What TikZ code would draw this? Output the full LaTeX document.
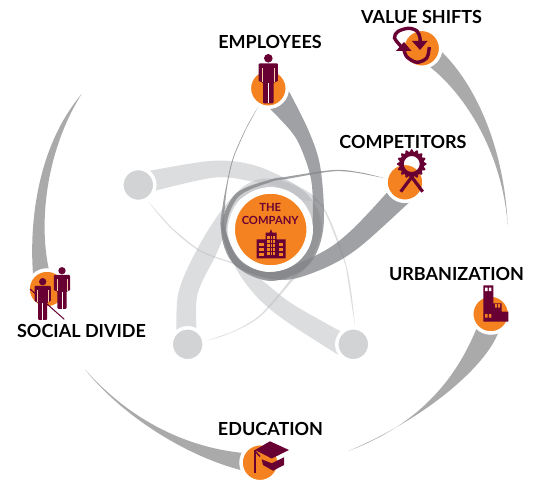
\documentclass[tikz,border=0pt]{standalone}
\usepackage{fontspec}
\setmainfont{Lato}
\definecolor{maroon}{RGB}{104,0,52}
\definecolor{orng}{RGB}{245,130,32}
\definecolor{pale}{RGB}{209,211,212}
\definecolor{swoosh}{RGB}{170,170,170}
\definecolor{bandd}{RGB}{131,133,136}
\definecolor{bandl}{RGB}{185,187,190}
\tikzset{
  hub/.style={circle,fill=orng,draw=white,line width=3.5pt,minimum size=38pt,inner sep=0pt},
  ghost/.style={circle,fill=pale,draw=white,line width=3.5pt,minimum size=33pt,inner sep=0pt},
  core/.style={circle,fill=orng,draw=white,line width=6.5pt,minimum size=78pt,inner sep=0pt},
  lab/.style={font=\fontsize{18}{18}\bfseries\selectfont,text=black,inner sep=0pt},
  corelab/.style={font=\fontsize{11.2}{13}\bfseries\selectfont,text=maroon,inner sep=0pt},
  darkband/.style={fill=bandd,fill opacity=.77},
  lightband/.style={fill=bandl,fill opacity=.5},
  sm/.style={smooth,tension=.55},
}
\newcommand{\personicon}[3]{%
  \begin{scope}[shift={(#1,#2)},scale=#3]
    \fill[maroon] (0,0) circle (4.3);
    \fill[maroon,rounded corners=1pt] (-9.6,23.4) -- (-9.6,5) -- (9.6,5) -- (9.6,23.4) -- (6.6,23.4) -- (6.2,24) -- (5.3,24) -- (5.3,45) -- (-5.3,45) -- (-5.3,24) -- (-6.2,24) -- (-6.6,23.4) -- cycle;
    \draw[white,line width=.7pt] (0,25) -- (0,45);
    \draw[orng!40!white,line width=.5pt] (-6,10) -- (-6,23.5) (6,10) -- (6,23.5);
  \end{scope}}
\begin{document}
\begin{tikzpicture}[x=1pt,y=-1pt]
\useasboundingbox (0,0) rectangle (535,481);
% outer swooshes
\fill[swoosh] (34,285) .. controls (28,231) and (35,149) .. (81.7,94) .. controls (46,150) and (36,228) .. (52,282) -- cycle;
\fill[swoosh] (85,369.3) .. controls (125,415) and (185,452) .. (260,454) -- (260,474) .. controls (200,465) and (125,420) .. (85,369.3) -- cycle;
\fill[swoosh] (482,315) .. controls (470,345) and (445,415) .. (348.3,451) .. controls (445,410) and (504,346) .. (500,320) -- cycle;
\fill[swoosh] (428,40) .. controls (475,75) and (505,150) .. (507.7,226.7) .. controls (503,150) and (460,85) .. (420,60) -- cycle;
% central loops
\begin{scope}[shift={(270.7,229.5)}]
  % top-left ghost
  \fill[lightband] plot[sm] coordinates {(-135,-56)(-60.7,-68.5)(-17.4,-64.5)(22.6,-46.2)(330:51)(0:51)(45:51)(90:51)(135:50)(-71.2,21.6)(-101.1,-2.6)(-122.4,-27.8)} -- plot[sm] coordinates {(-100.7,-3.5)(-70.7,20.5)(-37,33)(90:43)(45:42)(0:42)(330:42)(300:42.5)(5,-43.5)(-17.4,-47.8)(-57.4,-51.8)(-130,-35)} -- cycle;
  % bottom-left ghost
  \fill[lightband] plot[sm] coordinates {(-94,110)(-92.4,63.8)(-74,20.5)(-49,-19.5)(240:51)(270:51)(315:51)(0:51)(45:51)(22.6,50.5)(-10.7,87.2)(-40.7,103.8)(-64,111.2)} -- plot[sm] coordinates {(-40.7,103.2)(-11.5,86.2)(21,48)(45:42)(0:42)(315:42)(270:42.5)(225:43)(200:44)(-44,-2)(-54,23.8)(-73.4,65.5)(-73.4,110)} -- cycle;
  % bottom-right ghost
  \fill[lightband] plot[sm] coordinates {(75,130)(16,92.2)(-14,67.2)(-35.7,37.2)(180:50)(225:50)(270:50)(300:51)(52.6,-22.8)(76,37.2)(84.3,97.2)} -- plot[sm] coordinates {(75.3,37.4)(51.8,-21.5)(315:42.5)(270:42.5)(225:43)(180:43)(135:43.4)(-0.7,57.2)(26,77.2)(85,110)} -- cycle;
  % employees
  \fill[darkband] plot[sm] coordinates {(12,-150)(37.6,-99.5)(50,-60)(0:52.5)(45:52)(90:51.5)(135:50.5)(180:49.5)(-48.5,-20)(-44,-46)(-37.4,-72.8)(-24,-102.8)(-12.4,-122.8)} -- plot[sm] coordinates {(-23.4,-102.8)(-36.6,-72.8)(-43,-46)(-46,-20)(180:45.5)(135:44)(90:42.5)(45:41.5)(0:41)(41,-46)(31,-79.5)(19.3,-99.5)(-10,-130)} -- cycle;
  % competitors
  \fill[darkband] plot[sm] coordinates {(152,-40)(89.3,17.2)(49.3,40.5)(9.3,50.5)(135:50.5)(180:49.5)(225:50)(270:50)(16,-52.8)(62.6,-59.5)(89.3,-57.2)(114.3,-51.2)} -- plot[sm] coordinates {(89.3,-56.2)(62.6,-58.2)(16,-50.5)(270:47.5)(225:46)(180:44.5)(135:43)(90:42.5)(49.3,23.8)(82.6,-1)(128,-50)} -- cycle;
\end{scope}
% hubs
\node[ghost] (g1) at (138.3,185) {};
\node[ghost] (g2) at (187.7,344.3) {};
\node[ghost] (g3) at (353.3,344.3) {};
\node[core] (core) at (270.7,229.5) {};
\node[hub] (emp) at (268.3,88.3) {};
\node[hub] (comp) at (405,182.3) {};
\node[hub] (val) at (421.7,48.3) {};
\node[hub] (urb) at (490.7,314) {};
\node[hub] (edu) at (260,462.7) {};
\node[hub] (soc) at (47,289) {};
% core text and building
\node[corelab] (the) at (270.2,207.7) {THE};
\node[corelab] (company) at (270.2,220.7) {COMPANY};
\fill[maroon] (256.7,258.3) -- (256.7,239.3) -- (265.5,239.3) -- (265.5,232.7) -- (269.5,232.7) -- (271,229.3) -- (272.5,232.7) -- (276.5,232.7) -- (276.5,239.3) -- (285.7,239.3) -- (285.7,258.3) -- cycle;
\foreach \y in {236,240,244,248,252}{\fill[orng] (267.3,\y) rectangle (275,\y+2.6);}
\draw[maroon,line width=.6pt] (270,235) -- (270,256) (272.6,235) -- (272.6,256);
\foreach \y in {243,248,253}{\fill[orng] (259,\y) rectangle (263.5,\y+2.6);\fill[orng] (278.5,\y) rectangle (283.2,\y+2.6);}
% persons
\personicon{268.3}{58.3}{1}
\personicon{62}{270.7}{.85}
\draw[maroon,line width=1pt] (30,289) -- (64.3,319.3);
\personicon{42.7}{281.7}{.85}
% award
\begin{scope}[shift={(411.7,164)}]
  \fill[maroon,even odd rule] plot[domain=0:360,samples=145] (\x:{13.5+1.3*cos(16*\x)}) -- cycle (0,0) circle (8);
  \draw[maroon,line width=3.2pt] (-11,27.7) -- (3,9) (11,27.7) -- (-3,9);
\end{scope}
% rotation arrows
\draw[maroon,line width=3.4pt] plot[sm] coordinates {(401.7,47)(394.5,38)(398,31.5)(408.3,28.3)(417,31)(420,38)(420,42)};
\fill[maroon] (412,41) -- (427.5,41) -- (420,50) -- cycle;
\draw[maroon,line width=3.4pt] plot[sm] coordinates {(429.3,47)(426.7,58)(416.7,62.3)(407,57)(404,50)};
\fill[maroon] (396,51) -- (411.5,51) -- (404,42) -- cycle;
% factory
\fill[maroon] (483.3,285.3) -- (493.3,285.3) -- (493.3,303.3) -- (501.7,303.3) -- (501.7,311.7) -- (508.3,311.7) -- (508.3,321.7) -- (483.3,321.7) -- cycle;
\fill[white] (485,287.5) rectangle (487.5,291) (488.8,287.5) rectangle (491.3,291);
\fill[orng] (495,304) rectangle (497,307.5) (498,304) rectangle (500,307.5) (485,314) rectangle (487.5,317.5) (488.8,314) rectangle (491.3,317.5);
% graduation cap
\fill[maroon] (255,450) -- (270,441.3) -- (289,450) -- (271.7,458.5) -- cycle;
\fill[maroon] (261.7,459.3) -- (271.7,463.3) -- (284,457.3) -- (284,465) -- (273,470.7) -- (263,465) -- cycle;
\draw[maroon,line width=1.8pt] (255,450) -- (255,472.7);
\draw[maroon,line width=1.4pt] (255,451) -- (260,456.5);
% labels
\node[lab] (l1) at (270,42) {EMPLOYEES};
\node[lab] (l2) at (421.5,17) {VALUE SHIFTS};
\node[lab] (l3) at (403,142) {COMPETITORS};
\node[lab] (l4) at (456.5,274) {URBANIZATION};
\node[lab] (l5) at (81.5,331) {SOCIAL DIVIDE};
\node[lab] (l6) at (270.5,429) {EDUCATION};
\end{tikzpicture}
\end{document}
